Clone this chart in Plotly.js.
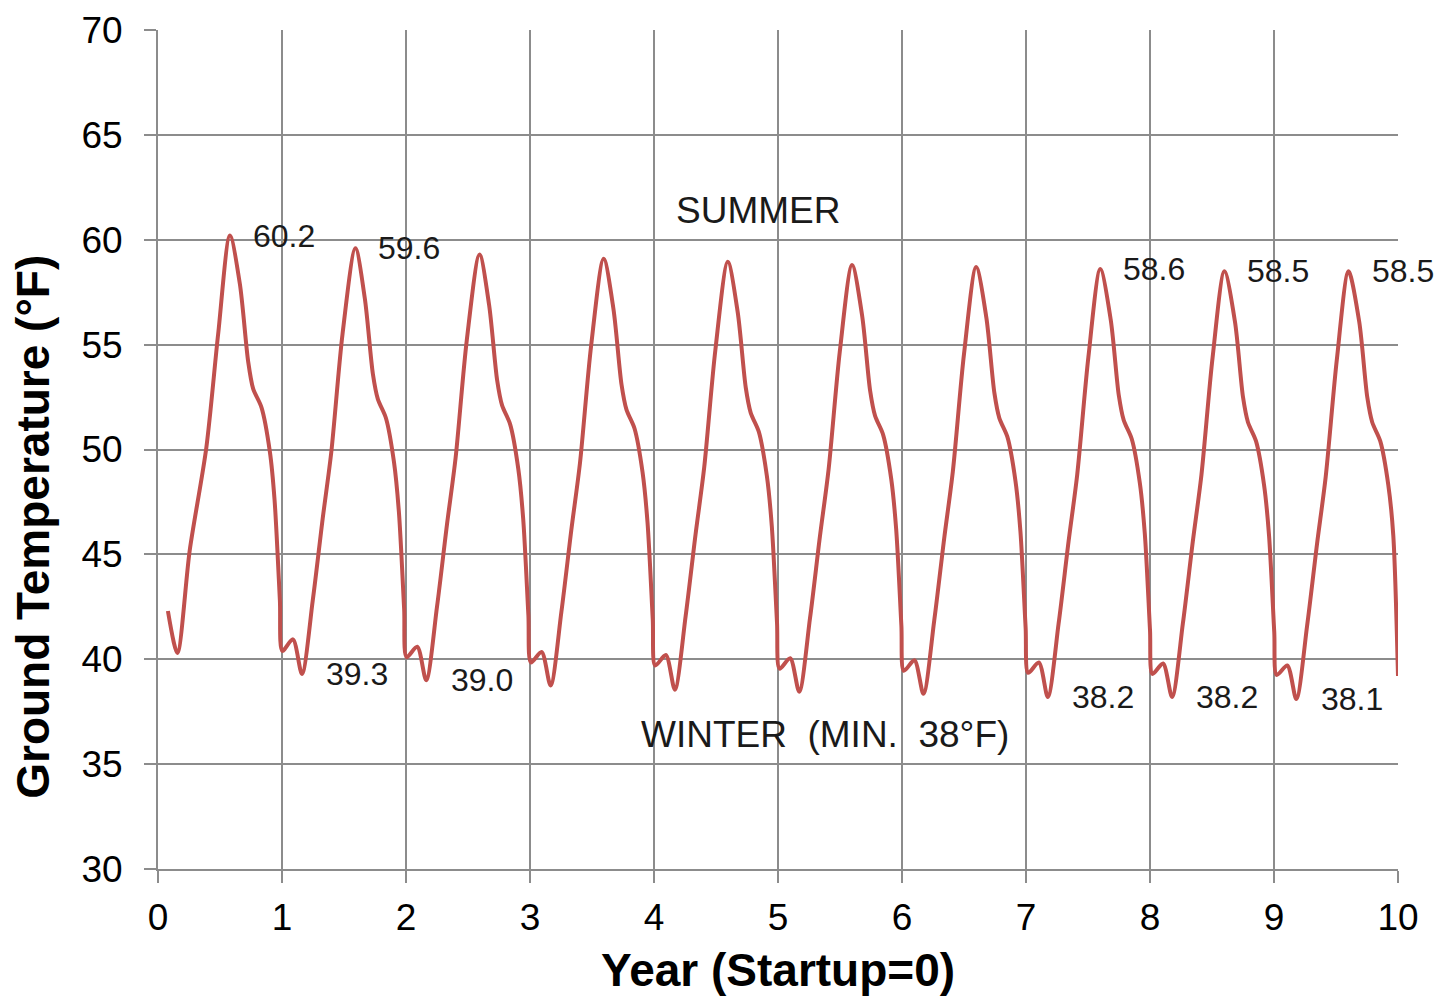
<!DOCTYPE html>
<html>
<head>
<meta charset="utf-8">
<script src="https://cdn.plot.ly/plotly-3.0.1.min.js"></script>
<style>
  html, body { margin: 0; padding: 0; background: #ffffff; }
  #chart { width: 1440px; height: 997px; }
</style>
</head>
<body>
<div id="chart"></div>
<script>
// ---- Data (years since startup, ground temperature °F) ----
const yearX = [
  0.08, 0.156, 0.256, 0.39, 0.485, 0.58, 0.66, 0.727, 0.767, 0.835, 0.902, 0.94, 0.983,
  1.003, 1.088, 1.161, 1.248, 1.328, 1.398, 1.488, 1.592, 1.668, 1.733, 1.773, 1.838, 1.903, 1.943, 1.985,
  2.005, 2.09, 2.163, 2.25, 2.33, 2.40, 2.49, 2.593, 2.67, 2.735, 2.775, 2.84, 2.905, 2.945, 2.987,
  3.008, 3.093, 3.166, 3.253, 3.333, 3.403, 3.493, 3.594, 3.673, 3.738, 3.778, 3.843, 3.908, 3.948, 3.99,
  4.01, 4.095, 4.168, 4.255, 4.335, 4.405, 4.495, 4.595, 4.675, 4.74, 4.78, 4.845, 4.91, 4.95, 4.992,
  5.013, 5.098, 5.171, 5.258, 5.338, 5.408, 5.498, 5.597, 5.678, 5.743, 5.783, 5.848, 5.913, 5.953, 5.995,
  6.015, 6.10, 6.173, 6.26, 6.34, 6.41, 6.50, 6.598, 6.68, 6.745, 6.785, 6.85, 6.915, 6.955, 6.997,
  7.018, 7.103, 7.176, 7.263, 7.343, 7.413, 7.503, 7.599, 7.683, 7.748, 7.788, 7.853, 7.918, 7.958, 8.00,
  8.02, 8.105, 8.178, 8.265, 8.345, 8.415, 8.505, 8.60, 8.685, 8.75, 8.79, 8.855, 8.92, 8.96, 9.002,
  9.022, 9.107, 9.18, 9.267, 9.347, 9.417, 9.507, 9.601, 9.687, 9.752, 9.792, 9.857, 9.922, 9.962, 10.0
];
const tempF = [
  42.3, 40.3, 45.2, 50.1, 55.5, 60.2, 57.9, 54.2, 52.9, 52.0, 49.9, 47.6, 42.8,
  40.4, 40.95, 39.3, 42.8, 46.7, 49.9, 55.5, 59.6, 57.2, 53.6, 52.4, 51.5, 49.4, 47.0, 42.4,
  40.1, 40.6, 39.0, 42.5, 46.4, 49.6, 55.2, 59.3, 56.9, 53.3, 52.1, 51.2, 49.1, 46.7, 42.1,
  39.85, 40.35, 38.75, 42.25, 46.15, 49.35, 54.95, 59.1, 56.7, 53.1, 51.9, 51.0, 48.9, 46.5, 41.9,
  39.7, 40.2, 38.55, 42.05, 45.95, 49.15, 54.75, 58.95, 56.55, 52.95, 51.75, 50.85, 48.75, 46.35, 41.75,
  39.55, 40.05, 38.45, 41.95, 45.85, 49.05, 54.65, 58.8, 56.4, 52.8, 51.6, 50.7, 48.6, 46.2, 41.6,
  39.45, 39.95, 38.35, 41.85, 45.75, 48.95, 54.55, 58.7, 56.3, 52.7, 51.5, 50.6, 48.5, 46.1, 41.5,
  39.35, 39.85, 38.2, 41.7, 45.6, 48.8, 54.4, 58.6, 56.2, 52.6, 51.4, 50.5, 48.4, 46.0, 41.4,
  39.3, 39.8, 38.2, 41.7, 45.6, 48.8, 54.4, 58.5, 56.1, 52.5, 51.3, 50.4, 48.3, 45.9, 41.3,
  39.25, 39.7, 38.1, 41.6, 45.5, 48.7, 54.3, 58.5, 56.1, 52.5, 51.3, 50.4, 48.3, 45.9, 39.2
];

// Labelled summer peaks and winter minima
const peakX = [0.58, 1.592, 7.599, 8.60, 9.601];
const peakV = [60.2, 59.6, 58.6, 58.5, 58.5];
const dipX  = [1.161, 2.163, 7.176, 8.178, 9.18];
const dipV  = [39.3, 39.0, 38.2, 38.2, 38.1];

// Axis ticks
const xTicks = [0, 1, 2, 3, 4, 5, 6, 7, 8, 9, 10];
const yTicks = [30, 35, 40, 45, 50, 55, 60, 65, 70];

// Text
const xTitle = 'Year (Startup=0)';
const yTitle = 'Ground Temperature (°F)';
const seasonText = ['SUMMER', 'WINTER\u00a0 (MIN.\u00a0 38°F)'];
const seasonX = [4.16, 3.877];
const seasonY = [61.4, 36.4];

const FONT = '"Liberation Sans", Arial, Helvetica, sans-serif';

const annotations = [];
peakX.forEach((x, i) => {
  annotations.push({
    x: x + 0.17, y: peakV[i], xref: 'x', yref: 'y',
    text: peakV[i].toFixed(1), showarrow: false,
    xanchor: 'left', yanchor: 'middle',
    font: { family: FONT, size: 32, color: '#1a1a1a' }
  });
});
dipX.forEach((x, i) => {
  annotations.push({
    x: x + 0.18, y: dipV[i], xref: 'x', yref: 'y',
    text: dipV[i].toFixed(1), showarrow: false,
    xanchor: 'left', yanchor: 'middle',
    font: { family: FONT, size: 32, color: '#1a1a1a' }
  });
});
seasonText.forEach((t, i) => {
  annotations.push({
    x: seasonX[i], y: seasonY[i], xref: 'x', yref: 'y',
    text: t, showarrow: false,
    xanchor: 'left', yanchor: 'middle',
    font: { family: FONT, size: 37, color: '#1a1a1a' }
  });
});
// axis titles
annotations.push({
  x: -0.101, y: 0.4076, xref: 'paper', yref: 'paper',
  text: yTitle, showarrow: false, textangle: -90,
  xanchor: 'center', yanchor: 'middle',
  font: { family: FONT, size: 46, color: '#000000', weight: 'bold' }
});
annotations.push({
  x: 0.5, y: -0.1204, xref: 'paper', yref: 'paper',
  text: xTitle, showarrow: false,
  xanchor: 'center', yanchor: 'middle',
  font: { family: FONT, size: 46, color: '#000000', weight: 'bold' }
});

const trace = {
  x: yearX,
  y: tempF,
  type: 'scatter',
  mode: 'lines',
  line: { color: '#c0504d', width: 4, shape: 'spline', smoothing: 0.8 },
  hoverinfo: 'skip'
};

const layout = {
  width: 1440,
  height: 997,
  margin: { l: 158, r: 42, t: 30, b: 128, pad: 0 },
  paper_bgcolor: '#ffffff',
  plot_bgcolor: '#ffffff',
  showlegend: false,
  font: { family: FONT, color: '#000000' },
  xaxis: {
    range: [0, 10],
    tickvals: xTicks,
    ticktext: xTicks.map(String),
    ticks: 'outside',
    ticklen: 12,
    tickwidth: 2,
    tickcolor: '#8c8c8c',
    showgrid: true,
    gridcolor: '#8c8c8c',
    gridwidth: 2,
    zeroline: false,
    showline: true,
    linecolor: '#8c8c8c',
    linewidth: 2,
    ticklabelstandoff: 3,
    tickfont: { family: FONT, size: 37, color: '#000000' },
    fixedrange: true
  },
  yaxis: {
    range: [30, 70],
    tickvals: yTicks,
    ticktext: yTicks.map(String),
    ticks: 'outside',
    ticklen: 12,
    tickwidth: 2,
    tickcolor: '#8c8c8c',
    showgrid: true,
    gridcolor: '#8c8c8c',
    gridwidth: 2,
    zeroline: false,
    showline: true,
    linecolor: '#8c8c8c',
    linewidth: 2,
    ticklabelstandoff: 14,
    tickfont: { family: FONT, size: 37, color: '#000000' },
    fixedrange: true
  },
  annotations: annotations
};

Plotly.newPlot('chart', [trace], layout, { displayModeBar: false, staticPlot: true });
</script>
</body>
</html>
